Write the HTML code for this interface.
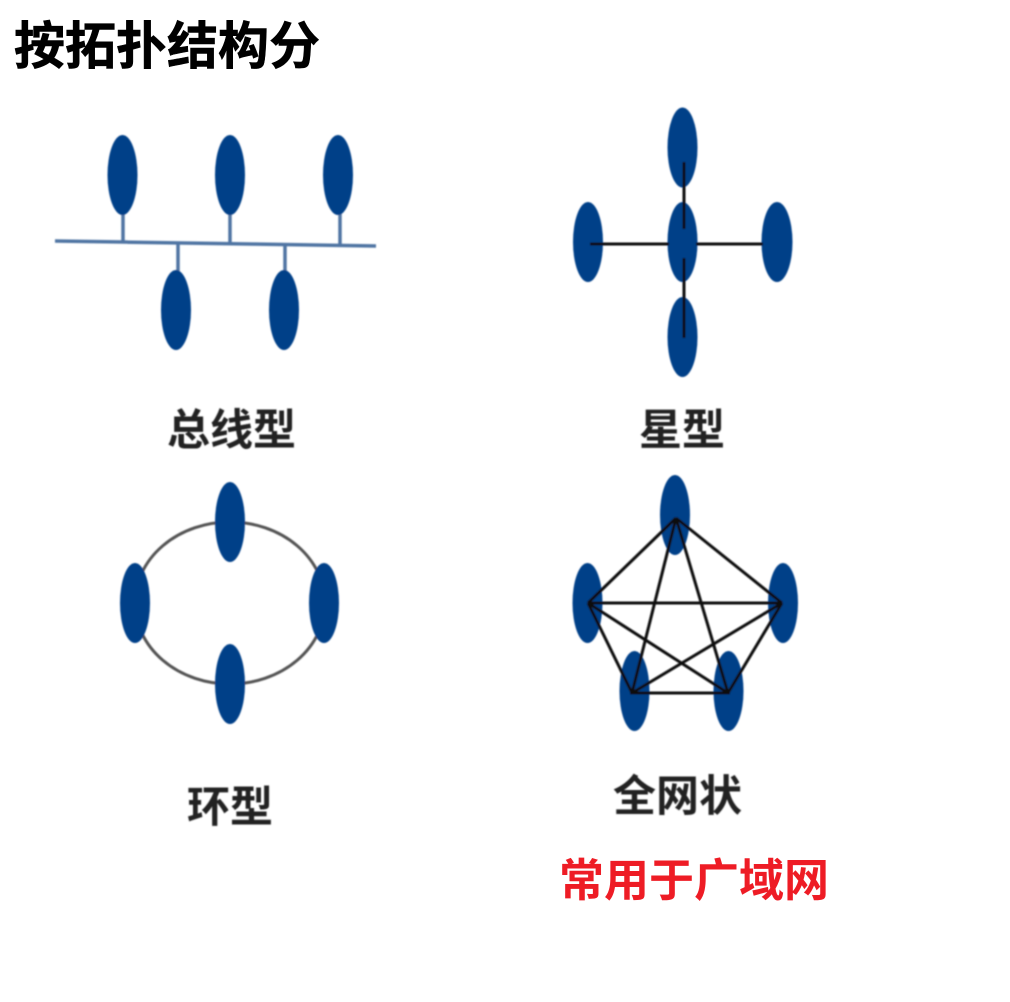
<!DOCTYPE html>
<html lang="zh">
<head>
<meta charset="utf-8">
<title>按拓扑结构分</title>
<style>
html,body{margin:0;padding:0;background:#fff;width:1010px;height:1002px;overflow:hidden}
svg{display:block;position:absolute;left:0;top:0}
text{font-family:"Liberation Sans","Noto Sans CJK SC",sans-serif}
.lbl{font-size:43px;font-weight:700;fill:#222;filter:url(#b2)}
.n{fill:#053f88}
</style>
</head>
<body>
<svg width="1010" height="1002" viewBox="0 0 1010 1002" xmlns="http://www.w3.org/2000/svg">
<defs>
<filter id="b" x="-5%" y="-5%" width="110%" height="110%"><feGaussianBlur stdDeviation="0.9"/></filter>
<filter id="b2" x="-5%" y="-15%" width="110%" height="130%"><feGaussianBlur stdDeviation="0.8"/></filter>
</defs>
<text x="14" y="64" font-size="51" font-weight="700" fill="#000" stroke="#000" stroke-width="0.6">按拓扑结构分</text>

<g filter="url(#b)">
<!-- bus -->
<g stroke="#4f75a3" stroke-width="3.500" fill="none">
<line x1="55" y1="241" x2="376" y2="246"/>
<line x1="123" y1="210" x2="123" y2="243"/>
<line x1="230" y1="210" x2="230" y2="244"/>
<line x1="340" y1="210" x2="340" y2="246"/>
<line x1="178" y1="244" x2="178" y2="275"/>
<line x1="285" y1="245" x2="285" y2="275"/>
</g>
<g class="n">
<ellipse cx="122.500" cy="175" rx="15" ry="40"/>
<ellipse cx="230" cy="175" rx="15" ry="40"/>
<ellipse cx="338" cy="175" rx="15" ry="40"/>
<ellipse cx="176" cy="310" rx="15" ry="40"/>
<ellipse cx="284" cy="310" rx="15" ry="40"/>
</g>

<!-- star -->
<g class="n">
<ellipse cx="682.500" cy="147.500" rx="15" ry="40"/>
<ellipse cx="588" cy="242" rx="15" ry="40"/>
<ellipse cx="682.500" cy="242" rx="15" ry="40"/>
<ellipse cx="777" cy="242" rx="15.500" ry="40"/>
<ellipse cx="682.500" cy="337" rx="15" ry="40"/>
</g>
<g stroke="#111" stroke-width="3" fill="none">
<line x1="590" y1="244" x2="669" y2="244"/>
<line x1="696" y1="244" x2="763" y2="244"/>
<line x1="684" y1="162" x2="684" y2="229"/>
<line x1="684" y1="258" x2="684" y2="338"/>
</g>

<!-- ring -->
<ellipse cx="230" cy="603" rx="95" ry="81" fill="none" stroke="#555" stroke-width="3"/>
<g class="n">
<ellipse cx="230" cy="522" rx="15" ry="40"/>
<ellipse cx="135" cy="603" rx="15" ry="40"/>
<ellipse cx="324" cy="603" rx="15" ry="40"/>
<ellipse cx="230" cy="684" rx="15" ry="40"/>
</g>

<!-- mesh -->
<g class="n">
<ellipse cx="675" cy="515" rx="15" ry="40"/>
<ellipse cx="587.500" cy="603" rx="15" ry="40"/>
<ellipse cx="783" cy="603" rx="15" ry="40"/>
<ellipse cx="634.500" cy="691" rx="15" ry="40"/>
<ellipse cx="728.500" cy="691" rx="15" ry="40"/>
</g>
<g stroke="#111" stroke-width="3" fill="none">
<line x1="676" y1="518" x2="588" y2="603"/>
<line x1="676" y1="518" x2="782" y2="603"/>
<line x1="676" y1="518" x2="632" y2="693"/>
<line x1="676" y1="518" x2="728" y2="693"/>
<line x1="588" y1="603" x2="782" y2="603"/>
<line x1="588" y1="603" x2="632" y2="693"/>
<line x1="588" y1="603" x2="728" y2="693"/>
<line x1="782" y1="603" x2="632" y2="693"/>
<line x1="782" y1="603" x2="728" y2="693"/>
<line x1="630" y1="693" x2="730" y2="693"/>
</g>
</g>

<text class="lbl" x="167" y="445">总线型</text>
<text class="lbl" x="639" y="445">星型</text>
<text class="lbl" x="187" y="822">环型</text>
<text class="lbl" x="613" y="811">全网状</text>
<text x="559" y="896" font-size="45" font-weight="700" fill="#ee1c25">常用于广域网</text>
</svg>
</body>
</html>
